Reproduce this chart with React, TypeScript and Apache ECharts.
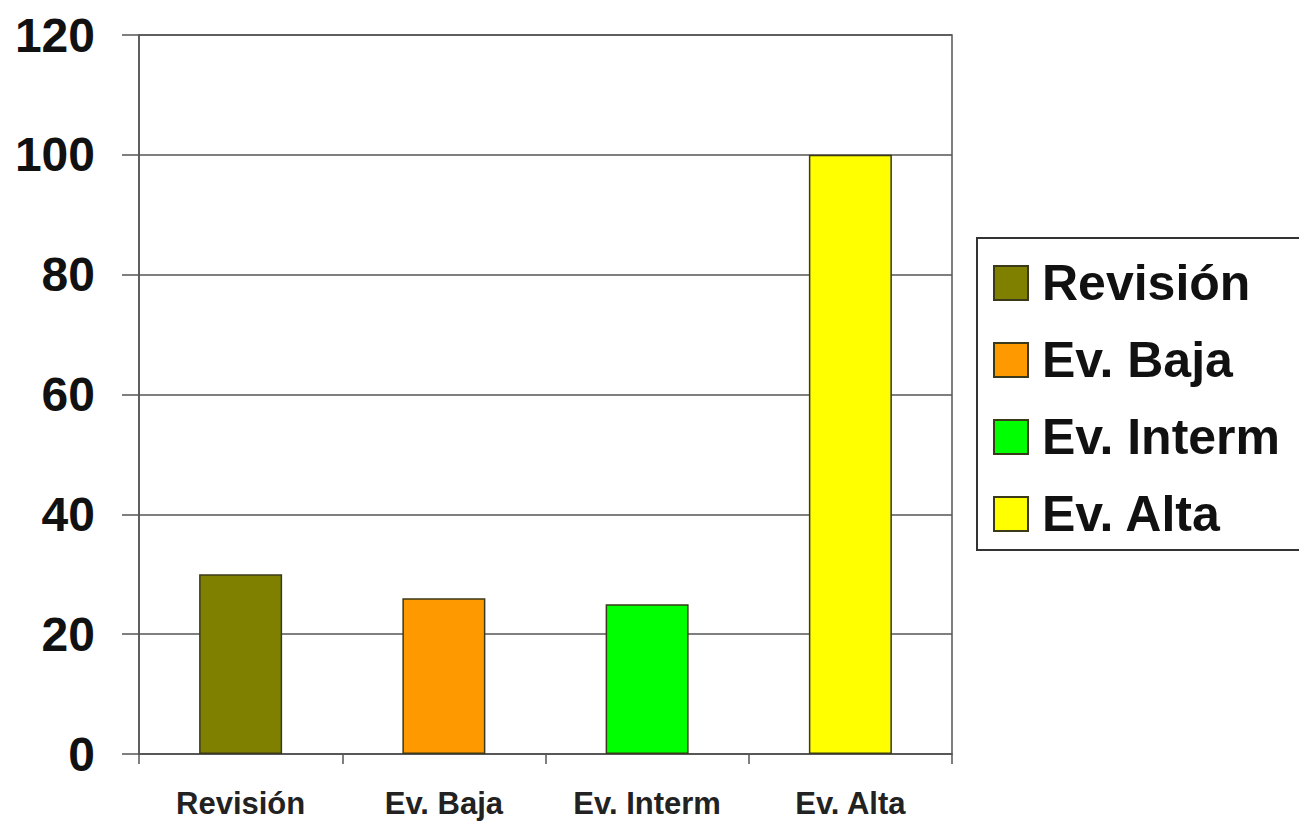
import React, { useEffect, useRef } from "react";
import * as echarts from "echarts";

const categories = ["Revisión", "Ev. Baja", "Ev. Interm", "Ev. Alta"];
const seriesNames = ["Revisión", "Ev. Baja", "Ev. Interm", "Ev. Alta"];
const values = [30, 26, 25, 100];
const colors = ["#808000", "#FF9900", "#00FF00", "#FFFF00"];
const yTicks = { min: 0, max: 120, interval: 20 };

const FONT = "'Liberation Sans', Arial, sans-serif";

export default function App() {
  const ref = useRef<HTMLDivElement>(null);
  useEffect(() => {
    document.body.style.margin = "0";
    if (!ref.current) return;
    const chart = echarts.init(ref.current, undefined, { renderer: "svg" });
    const series = seriesNames.map((name, i) => ({
      name,
      type: "bar",
      stack: "all",
      barWidth: 83,
      data: categories.map((_, j) => (j === i ? values[j] : null)),
      itemStyle: { color: colors[i], borderColor: "#3a3a1a", borderWidth: 1.5 },
    }));
    chart.setOption({
      animation: false,
      backgroundColor: "#ffffff",
      textStyle: { fontFamily: FONT },
      grid: { left: 139, right: 347, top: 35, bottom: 68, show: true, borderColor: "#555", borderWidth: 1.5 },
      xAxis: {
        type: "category",
        data: categories,
        axisLine: { show: true, lineStyle: { color: "#555", width: 1.5 } },
        axisTick: { show: true, alignWithLabel: false, length: 10, lineStyle: { color: "#555", width: 1.5 } },
        axisLabel: { color: "#222", fontSize: 31, fontWeight: "bold", fontFamily: FONT, margin: 34 },
      },
      yAxis: {
        type: "value",
        min: yTicks.min,
        max: yTicks.max,
        interval: yTicks.interval,
        axisLine: { show: true, lineStyle: { color: "#555", width: 1.5 } },
        axisTick: { show: true, inside: false, length: 17, lineStyle: { color: "#555", width: 1.5 } },
        splitLine: { show: true, lineStyle: { color: "#555", width: 1.5 } },
        axisLabel: { color: "#111", fontSize: 48, fontWeight: "bold", fontFamily: FONT, margin: 44 },
      },
      legend: {
        orient: "vertical",
        left: 993,
        top: 258,
        padding: 0,
        itemWidth: 34,
        itemHeight: 34,
        itemGap: 27,
        icon: "rect",
        textStyle: { fontSize: 50, fontWeight: "bold", color: "#111", fontFamily: FONT, lineHeight: 50, padding: [0, 0, 0, 9] },
        data: seriesNames,
      },
      graphic: [
        {
          type: "rect",
          shape: { x: 977, y: 238, width: 340, height: 312 },
          style: { fill: "none", stroke: "#333", lineWidth: 2 },
          z: 10,
        },
      ],
      series,
    });
    return () => chart.dispose();
  }, []);
  return <div ref={ref} style={{ width: 1299, height: 822 }} />;
}
